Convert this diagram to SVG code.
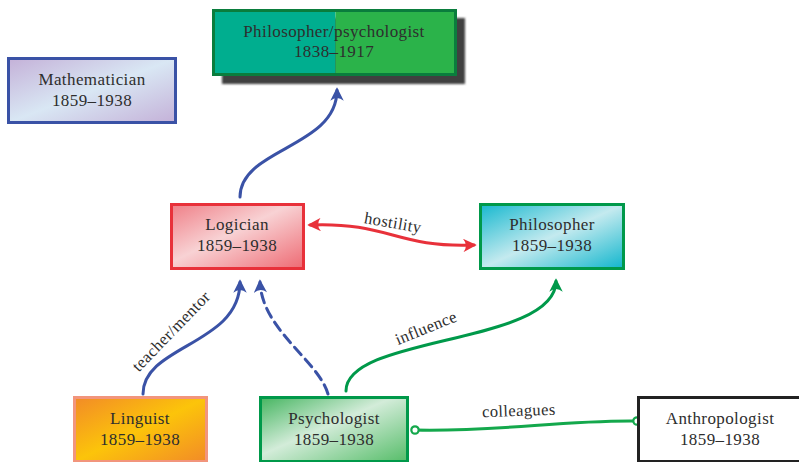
<svg xmlns="http://www.w3.org/2000/svg" width="799" height="462" viewBox="0 0 799 462">
  <style>
    .label { font-family: "Liberation Serif", "DejaVu Serif", serif; font-size: 17px; letter-spacing: 0.4px; fill: #2e2e2e; text-anchor: middle; }
    .elabel { font-family: "Liberation Serif", "DejaVu Serif", serif; font-size: 16.5px; letter-spacing: 0.4px; fill: #2e2e2e; text-anchor: middle; }
    .edge { fill: none; stroke-width: 3; stroke-linecap: round; }
    .blue { stroke: #3a52a6; }
    .red { stroke: #e8313a; }
    .green { stroke: #00994a; }
    .lgreen { stroke: #14a84c; }
  </style>
  <defs>
    <linearGradient id="gMath" x1="0" y1="0" x2="1" y2="1">
      <stop offset="0" stop-color="#c4b1d8"/>
      <stop offset="0.5" stop-color="#d9e7f4"/>
      <stop offset="1" stop-color="#c4b1d8"/>
    </linearGradient>
    <linearGradient id="gLogic" x1="0" y1="0" x2="1" y2="1">
      <stop offset="0" stop-color="#ef7f87"/>
      <stop offset="0.45" stop-color="#f8d2d4"/>
      <stop offset="1" stop-color="#ee6a73"/>
    </linearGradient>
    <linearGradient id="gPhil" x1="0" y1="0" x2="1" y2="1">
      <stop offset="0" stop-color="#16b8cf"/>
      <stop offset="0.5" stop-color="#c4eaef"/>
      <stop offset="1" stop-color="#10b6cd"/>
    </linearGradient>
    <linearGradient id="gLing" x1="0" y1="0" x2="1" y2="1">
      <stop offset="0" stop-color="#f28b27"/>
      <stop offset="0.5" stop-color="#fcc40a"/>
      <stop offset="1" stop-color="#f28b27"/>
    </linearGradient>
    <linearGradient id="gPsych" x1="0" y1="0" x2="1" y2="1">
      <stop offset="0" stop-color="#45b560"/>
      <stop offset="0.45" stop-color="#d3ecd9"/>
      <stop offset="1" stop-color="#56bd69"/>
    </linearGradient>
    <filter id="soft" x="-10%" y="-20%" width="120%" height="140%">
      <feGaussianBlur stdDeviation="1"/>
    </filter>
    <marker id="arrBlue" viewBox="0 0 10 10" refX="8" refY="5" markerWidth="4.5" markerHeight="4.5" orient="auto-start-reverse" markerUnits="strokeWidth">
      <path d="M0,0 Q4,5 0,10 L10,5 Z" fill="#3a52a6"/>
    </marker>
    <marker id="arrRed" viewBox="0 0 10 10" refX="8" refY="5" markerWidth="4.5" markerHeight="4.5" orient="auto-start-reverse" markerUnits="strokeWidth">
      <path d="M0,0 Q4,5 0,10 L10,5 Z" fill="#e8313a"/>
    </marker>
    <marker id="arrGreen" viewBox="0 0 10 10" refX="8" refY="5" markerWidth="4.5" markerHeight="4.5" orient="auto-start-reverse" markerUnits="strokeWidth">
      <path d="M0,0 Q4,5 0,10 L10,5 Z" fill="#00994a"/>
    </marker>
    <marker id="dot" viewBox="0 0 10 10" refX="5" refY="5" markerWidth="3.4" markerHeight="3.4" markerUnits="strokeWidth">
      <circle cx="5" cy="5" r="3.6" fill="#ffffff" stroke="#14a84c" stroke-width="2.2"/>
    </marker>
  </defs>

  <!-- connectors -->
  <g id="connectors">
    <path class="edge blue" d="M240,197 C240,148 337,148 337,90" marker-end="url(#arrBlue)"/>
    <path class="edge blue" d="M143,394 C143,345 240,345 240,282" marker-end="url(#arrBlue)"/>
    <path class="edge blue" d="M328,394 C318,360 262,330 260,282" stroke-dasharray="10,6" marker-end="url(#arrBlue)"/>
    <path class="edge red" d="M310,225 C390,222 395,248 474,245" marker-start="url(#arrRed)" marker-end="url(#arrRed)"/>
    <path class="edge green" d="M346,391 C346,335 556,345 556,281" marker-end="url(#arrGreen)"/>
    <path class="edge lgreen" d="M415,430 C500,432 560,420 637,421" marker-start="url(#dot)" marker-end="url(#dot)"/>

    <text class="elabel" transform="translate(392,228) rotate(10)">hostility</text>
    <text class="elabel" transform="translate(175,335) rotate(-46)">teacher/mentor</text>
    <text class="elabel" transform="translate(428,333) rotate(-22)">influence</text>
    <text class="elabel" transform="translate(519,416) rotate(-2)">colleagues</text>
  </g>

  <!-- nodes -->
  <g id="philpsych">
    <rect x="222" y="18" width="243" height="66" fill="#404040" filter="url(#soft)"/>
    <rect x="213.5" y="10.5" width="122" height="64" fill="#00ae8f"/>
    <rect x="335.5" y="10.5" width="120" height="64" fill="#2bb34a"/>
    <rect x="213.5" y="10.5" width="242" height="64" fill="none" stroke="#0a7d3d" stroke-width="3"/>
    <text class="label" x="334" y="37">Philosopher/psychologist</text>
    <text class="label" x="334" y="57">1838–1917</text>
  </g>

  <g id="mathematician">
    <rect x="8.5" y="58.5" width="167" height="64" fill="url(#gMath)" stroke="#3a52a6" stroke-width="3"/>
    <text class="label" x="92" y="85">Mathematician</text>
    <text class="label" x="92" y="106">1859–1938</text>
  </g>

  <g id="logician">
    <rect x="171.5" y="204.5" width="132" height="64" fill="url(#gLogic)" stroke="#e8313a" stroke-width="3"/>
    <text class="label" x="237" y="230">Logician</text>
    <text class="label" x="237" y="251">1859–1938</text>
  </g>

  <g id="philosopher">
    <rect x="480.5" y="204.5" width="143" height="64" fill="url(#gPhil)" stroke="#00994a" stroke-width="3"/>
    <text class="label" x="552" y="230">Philosopher</text>
    <text class="label" x="552" y="251">1859–1938</text>
  </g>

  <g id="linguist">
    <rect x="74.5" y="397.5" width="132" height="64" fill="url(#gLing)" stroke="#f2957c" stroke-width="3"/>
    <text class="label" x="140" y="424">Linguist</text>
    <text class="label" x="140" y="445">1859–1938</text>
  </g>

  <g id="psychologist">
    <rect x="260.5" y="397.5" width="147" height="64" fill="url(#gPsych)" stroke="#00994a" stroke-width="3"/>
    <text class="label" x="334" y="424">Psychologist</text>
    <text class="label" x="334" y="445">1859–1938</text>
  </g>

  <g id="anthropologist">
    <rect x="638.5" y="397.5" width="170" height="64" fill="#ffffff" stroke="#222222" stroke-width="3"/>
    <text class="label" x="720" y="424">Anthropologist</text>
    <text class="label" x="720" y="445">1859–1938</text>
  </g>
</svg>
